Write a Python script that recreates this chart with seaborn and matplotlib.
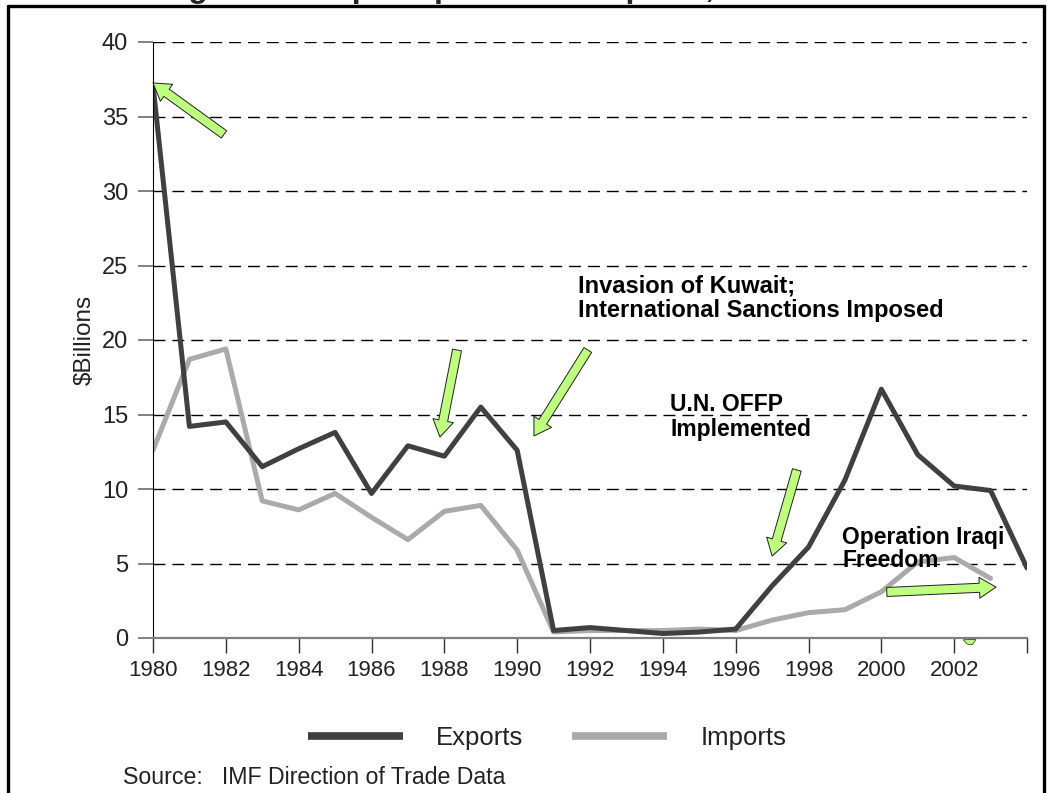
import matplotlib
matplotlib.use("Agg")
import matplotlib.pyplot as plt
import pandas as pd
import seaborn as sns
from matplotlib.lines import Line2D
from matplotlib.patches import FancyArrowPatch, Polygon

# values ($ billions)
export_years = list(range(1980, 2005))
exports = [37.1, 14.2, 14.5, 11.5, 12.7, 13.8, 9.7, 12.9, 12.2, 15.5, 12.6, 0.5,
           0.7, 0.5, 0.3, 0.4, 0.6, 3.5, 6.1, 10.6, 16.7, 12.3, 10.2, 9.9, 4.7]
import_years = list(range(1980, 2004))
imports = [12.6, 18.7, 19.4, 9.2, 8.6, 9.7, 8.1, 6.6, 8.5, 8.9, 5.9, 0.4,
           0.5, 0.5, 0.5, 0.6, 0.5, 1.2, 1.7, 1.9, 3.1, 5.1, 5.4, 4.0]
year_ticks = list(range(1980, 2005, 2))
year_labels = [str(y) for y in range(1980, 2003, 2)] + [""]
value_ticks = list(range(0, 41, 5))

EXPORT_COLOR = "#404040"
IMPORT_COLOR = "#aaaaaa"
ARROW_FILL = "#bfff80"

sns.set_style("white")
plt.rcParams["font.family"] = ["Liberation Sans", "DejaVu Sans"]

trade = pd.concat([
    pd.DataFrame({"year": export_years, "value": exports, "series": "Exports"}),
    pd.DataFrame({"year": import_years, "value": imports, "series": "Imports"}),
])

fig = plt.figure(figsize=(10.47, 7.93), dpi=100)
ax = fig.add_axes([153 / 1047, 1 - 638 / 793, (1027 - 153) / 1047, (638 - 42) / 793])

sns.lineplot(data=trade, x="year", y="value", hue="series",
             palette={"Exports": EXPORT_COLOR, "Imports": IMPORT_COLOR},
             hue_order=["Imports", "Exports"], linewidth=3.6, ax=ax, legend=False)

ax.set_xlim(1980, 2004)
ax.set_ylim(0, 40)
ax.set_xticks(year_ticks)
ax.set_xticklabels(year_labels)
ax.set_yticks(value_ticks)
ax.set_xlabel("")
ax.set_ylabel("$Billions", fontsize=17.5, color="#222222", labelpad=4)

ax.grid(axis="y", color="black", linestyle=(0, (8.6, 5)), linewidth=1.0)
ax.get_ygridlines()[0].set_visible(False)
ax.set_axisbelow(True)

for side in ("top", "right"):
    ax.spines[side].set_visible(False)
ax.spines["left"].set_color("black")
ax.spines["left"].set_linewidth(0.8)
ax.spines["bottom"].set_color("#808080")
ax.spines["bottom"].set_linewidth(1.6)

ax.tick_params(axis="y", direction="out", length=11, width=1.4, color="#808080",
               labelsize=17, labelcolor="#222222", pad=7, left=True)
ax.tick_params(axis="x", direction="out", length=11, width=1.0, color="#303030",
               labelsize=16, labelcolor="#222222", pad=5, bottom=True)

# annotations
note_style = dict(fontweight="bold", color="black", ha="left", va="top")
ax.text(1991.67, 24.4, "Invasion of Kuwait;\nInternational Sanctions Imposed",
        fontsize=17, linespacing=1.1, **note_style)
ax.text(1994.2, 16.45, "U.N. OFFP\nImplemented", fontsize=16.5, linespacing=1.1,
        **note_style)
ax.text(1998.92, 7.55, "Operation Iraqi\nFreedom", fontsize=16.5, linespacing=1.0,
        **note_style)

arrows = [
    ((1981.95, 33.8), (1980.0, 37.25)),
    ((1988.35, 19.33), (1987.88, 13.49)),
    ((1991.94, 19.33), (1990.46, 13.56)),
    ((1997.68, 11.28), (1997.0, 5.5)),
    ((2000.15, 3.09), (2003.15, 3.42)),
]
for tail, tip in arrows:
    ax.add_patch(FancyArrowPatch(
        tail, tip, arrowstyle="simple,head_length=1.2,head_width=1.5,tail_width=0.65",
        mutation_scale=10, shrinkA=0, shrinkB=0, facecolor=ARROW_FILL,
        edgecolor="#202020", linewidth=0.7, zorder=5, clip_on=False))
ax.add_patch(Polygon([(2002.25, -0.12), (2002.6, -0.1), (2002.5, -0.45), (2002.35, -0.4)],
                     closed=True, facecolor=ARROW_FILL, edgecolor="#202020",
                     linewidth=0.5, clip_on=False, zorder=5))

# legend
handles = [Line2D([], [], color=EXPORT_COLOR, linewidth=5.5, solid_capstyle="butt"),
           Line2D([], [], color=IMPORT_COLOR, linewidth=5.5, solid_capstyle="butt")]
fig.legend(handles, ["Exports", "Imports"], loc="center", ncol=2, frameon=False,
           bbox_to_anchor=(547 / 1047, 1 - 738 / 793), fontsize=18.5,
           handlelength=3.7, handletextpad=1.3, columnspacing=1.9,
           labelcolor="#222222")

fig.text(123 / 1047, 1 - 784 / 793, "Source:   IMF Direction of Trade Data",
         fontsize=16.7, color="#222222", ha="left", va="baseline")

# clipped title above the frame, only descenders show
fig.text(160 / 1047, 1.0034, "Figure 1. Iraq's Exports and Imports, 1980-2004",
         fontsize=23, fontweight="bold", ha="left", va="baseline")

# page frame
frame = dict(color="black", linewidth=2.4, transform=fig.transFigure)
fig.add_artist(Line2D([8 / 1047, 8 / 1047], [0, 1 - 6 / 793], **frame))
fig.add_artist(Line2D([8 / 1047, 1044 / 1047], [1 - 6 / 793, 1 - 6 / 793], **frame))
fig.add_artist(Line2D([1044 / 1047, 1044 / 1047], [0, 1 - 6 / 793], **frame))

fig.savefig("out.png", dpi=100)
plt.close(fig)
